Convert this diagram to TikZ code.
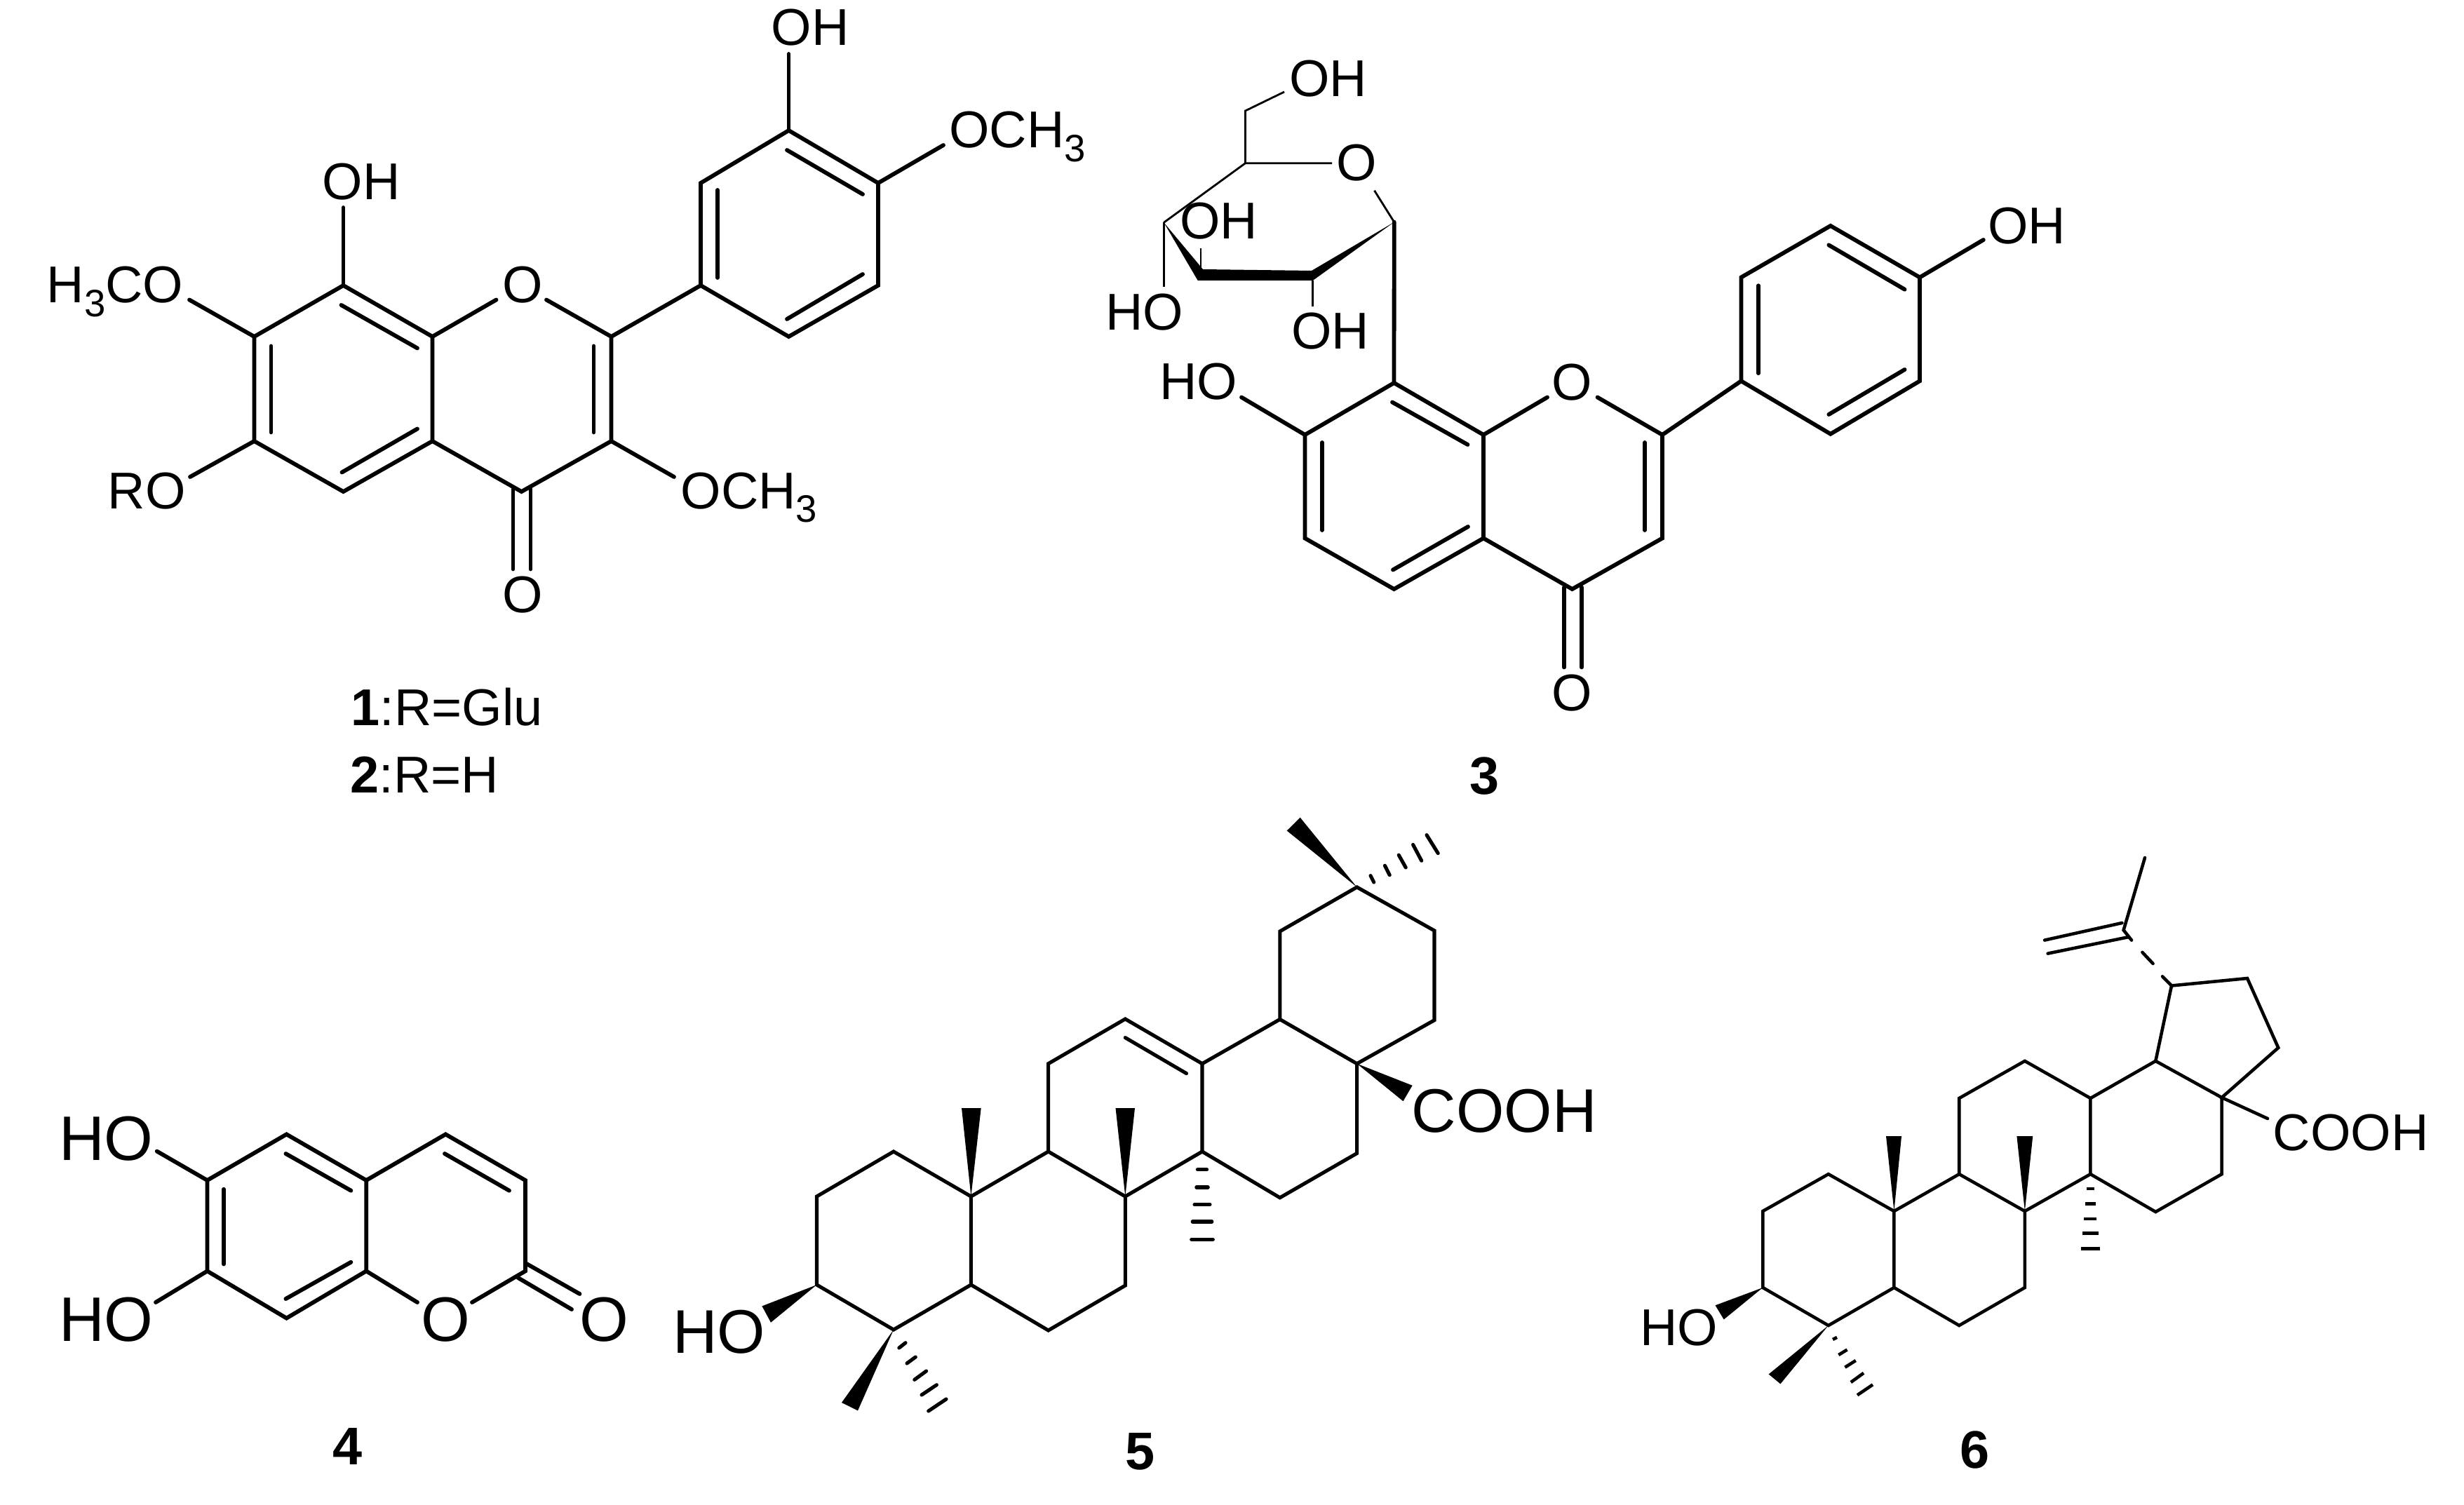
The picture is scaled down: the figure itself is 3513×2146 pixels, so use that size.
\documentclass[tikz,border=0pt]{standalone}
\usepackage{fontspec}
\setmainfont{Liberation Sans}
\def\wedgebond(#1)(#2)(#3){\fill (#1) -- (#2) -- (#3) -- cycle;}
\newcommand{\subthree}{\raisebox{-0.26em}{\fontsize{15.5}{16}\selectfont 3}}
\tikzset{
	bond/.style={line width=1.65pt, line cap=round},
	thinbond/.style={line width=0.8pt},
	midbond/.style={line width=1.45pt, line cap=round},
	lowbond/.style={line width=1.3pt, line cap=round},
	atom/.style={font=\fontsize{21}{24}\selectfont, inner sep=0pt, anchor=base},
	bigatom/.style={atom, font=\fontsize{25.5}{30}\selectfont},
	midatom/.style={atom, font=\fontsize{25}{30}\selectfont},
	molnum/.style={atom, font=\fontsize{21.5}{24}\selectfont\bfseries}
}

\begin{document}
\begin{tikzpicture}[x=0.01cm, y=-0.01cm]
		\useasboundingbox (0, 0) rectangle (3513, 2146);
		
		%%%%% 1 and 2 %%%%%
		\foreach \n/\x/\y in {a1/362.5/480, a2/489.5/407, a3/616.5/480, a4/616.5/629, a5/489.5/701, a6/362.5/629,
			a7/743.5/701, a8/871.5/629, a9/871.5/480, a10/999/407, a11/999/261, a12/1124.5/186, a13/1252/261,
			a14/1252/407, a15/1124.5/480, ae1/270/427.5, ae2/489.5/296, ae3/271/680, ae4/707.5/427.5,
			ae5/779/427.5, ae6/1124.5/77, ae7/1345/207, ae8/961/680}
			\coordinate (\n) at (\x, \y);
		\draw[bond] (a1) -- (a2) -- (a3) -- (a4) -- (a5) -- (a6) -- cycle;
		\draw[bond] (a4) -- (a7) -- (a8) -- (a9) -- (ae5);
		\draw[bond] (a3) -- (ae4);
		\draw[bond] (a9) -- (a10) -- (a11) -- (a12) -- (a13) -- (a14) -- (a15) -- (a10);
		\draw[bond] (a1) -- (ae1);
		\draw[bond] (a2) -- (ae2);
		\draw[bond] (a6) -- (ae3);
		\draw[bond] (a12) -- (ae6);
		\draw[bond] (a13) -- (ae7);
		\draw[bond] (a8) -- (ae8);
		\foreach \xa/\ya/\xb/\yb in {486.5/435/595/496.5, 386.5/493.5/386.5/616.5, 487.5/673.5/595/611.5,
			846.5/493.5/846.5/616.5, 731.5/697.5/731.5/811.5, 756.5/697.5/756.5/811.5, 1023/271/1023/396,
			1122/214/1230/277, 1230/391/1122/455}
			\draw[bond] (\xa, \ya) -- (\xb, \yb);
		\node[atom, anchor=base east] (a-h3co) at (262, 432) {H\subthree CO};
		\node[atom] (a-oh8) at (515, 285) {OH};
		\node[atom] (a-o1) at (745, 432) {O};
		\node[atom] (a-oh3) at (1155, 65) {OH};
		\node[atom, anchor=base west] (a-och4) at (1352.5, 211) {OCH\subthree};
		\node[atom, anchor=base west] (a-ro) at (153, 725) {RO};
		\node[atom] (a-o4) at (745, 873) {O};
		\node[atom, anchor=base west] (a-och3) at (970, 725) {OCH\subthree};
		\node[atom, anchor=base west] (a-glu) at (500, 1034) {\textbf{1}:R=Glu};
		\node[atom, anchor=base west] (a-h) at (499, 1130) {\textbf{2}:R=H};
		
		%%%%% 3 %%%%%
		\foreach \n/\x/\y in {b1/1860.5/620, b2/1987.5/546, b3/2115/620, b4/2115/767.5, b5/1987.5/840, b6/1860.5/767.5,
			b7/2241.5/840, b8/2370/767.5, b9/2370/620, b10/2482.4/543.3, b11/2482.4/395.5, b12/2609.8/322,
			b13/2737/395.5, b14/2737/543.3, b15/2609.8/618.8, be1/1770/566.5, be2/2206/566.5, be3/2277.5/566.5,
			be4/2827.8/342, s1/1987.7/316.7, s2/1659.3/317.3, s3/1775.5/232.7, s4/1775.5/158, se1/1831/131,
			se2/1899/232.7, se3/1959.5/271.7, se4/1659.3/409, se5/1712/354.3, se6/1712/382, se7/1871.3/400,
			se8/1871.3/436.7}
			\coordinate (\n) at (\x, \y);
		\draw[bond] (b1) -- (b2) -- (b3) -- (b4) -- (b5) -- (b6) -- cycle;
		\draw[bond] (b4) -- (b7) -- (b8) -- (b9) -- (be3);
		\draw[bond] (b3) -- (be2);
		\draw[bond] (b9) -- (b10) -- (b11) -- (b12) -- (b13) -- (b14) -- (b15) -- (b10);
		\draw[bond] (b1) -- (be1);
		\draw[bond] (b13) -- (be4);
		\draw[bond] (b2) -- (s1);
		\foreach \xa/\ya/\xb/\yb in {1985/573.5/2092.5/634, 1885/631/1885/756, 1986/812.5/2093/751,
			2345/631/2345/756, 2230/837.5/2230/951.5, 2255/837.5/2255/951.5, 2507/407.3/2507/532.2,
			2607.3/349.4/2715.5/412.7, 2715.5/527/2607.3/591}
			\draw[bond] (\xa, \ya) -- (\xb, \yb);
		\fill (s2) -- (1715, 384) -- (1870, 386) -- (s1) -- (1871.7, 400) -- (1707.7, 400) -- cycle;
		\draw[thinbond] (s1) -- (se3);
		\draw[thinbond] (se2) -- (s3) -- (s2);
		\draw[thinbond] (s3) -- (s4) -- (se1);
		\draw[thinbond] (s2) -- (se4);
		\draw[thinbond] (se5) -- (se6);
		\draw[thinbond] (se7) -- (se8);
		\node[atom] (b-oh6) at (1893.5, 138) {OH};
		\node[atom] (b-os) at (1934, 258) {O};
		\node[atom] (b-oh4) at (1737.7, 341) {OH};
		\node[atom] (b-ho3) at (1632, 471) {HO};
		\node[atom] (b-oh2) at (1896.5, 498) {OH};
		\node[atom] (b-ho7) at (1708.7, 570) {HO};
		\node[atom] (b-o1) at (2241, 570.5) {O};
		\node[atom] (b-o4) at (2241, 1013) {O};
		\node[atom] (b-oh4p) at (2889.5, 347.3) {OH};
		\node[molnum] (b-num) at (2116.5, 1132) {3};
		
		%%%%% 4 %%%%%
		\foreach \n/\x/\y in {c1/295.5/1683, c2/408.5/1617.4, c3/522.2/1683, c4/522.2/1812.4, c5/408.5/1879.6,
			c6/295.5/1812.4, c7/635.3/1617.4, c8/749/1683, c9/749/1812.4, ce1/223.7/1641.6, ce2/222/1857,
			ce3/595/1857, ce4/673/1857}
			\coordinate (\n) at (\x, \y);
		\draw[bond] (c1) -- (c2) -- (c3) -- (c4) -- (c5) -- (c6) -- cycle;
		\draw[bond] (c3) -- (c7) -- (c8) -- (c9) -- (ce4);
		\draw[bond] (c4) -- (ce3);
		\draw[bond] (c1) -- (ce1);
		\draw[bond] (c6) -- (ce2);
		\foreach \xa/\ya/\xb/\yb in {407.4/1645/500.4/1697.7, 319/1695.7/319/1802.5, 407.4/1852/500.4/1799.7,
			634/1645/726/1697.7, 749/1801/826.5/1845, 738.6/1822/815/1867}
			\draw[bond] (\xa, \ya) -- (\xb, \yb);
		\node[bigatom] (c-ho6) at (151.4, 1654) {HO};
		\node[bigatom] (c-ho7) at (151.4, 1912) {HO};
		\node[bigatom] (c-o1) at (635.3, 1912) {O};
		\node[bigatom] (c-o2) at (861, 1912) {O};
		\node[molnum] (c-num) at (496, 2088) {4};
		
		%%%%% 5 %%%%%
		\foreach \n/\x/\y in {d1/1164.5/1706, d2/1274/1642, d3/1384.4/1706, d4/1384.4/1832, d5/1274/1896, d6/1164.5/1832,
			d7/1494.6/1642, d8/1604.3/1706, d9/1604.3/1833, d10/1494.6/1897, d11/1494.6/1516.7, d12/1604.3/1453,
			d13/1714/1516.7, d14/1714/1642, d15/1824.8/1453.5, d16/1934.6/1516.7, d17/1934.6/1644.5, d18/1824.8/1707.8,
			d19/1824.8/1328, d20/1934.6/1265, d21/2045/1327, d22/2045/1454.7}
			\coordinate (\n) at (\x, \y);
		\draw[midbond] (d1) -- (d2) -- (d3) -- (d4) -- (d5) -- (d6) -- cycle;
		\draw[midbond] (d3) -- (d7) -- (d8) -- (d9) -- (d10) -- (d4);
		\draw[midbond] (d7) -- (d11) -- (d12) -- (d13) -- (d14) -- (d8);
		\draw[midbond] (d13) -- (d15) -- (d16) -- (d17) -- (d18) -- (d14);
		\draw[midbond] (d15) -- (d19) -- (d20) -- (d21) -- (d22) -- (d16);
		\draw[midbond] (1604.3, 1479.6) -- (1691.5, 1530.6);
		\wedgebond(d3)(1371, 1580)(1398.7, 1580)
		\wedgebond(d8)(1590.5, 1580)(1618, 1580)
		\wedgebond(d6)(1086.4, 1862.4)(1099, 1885.7)
		\wedgebond(d5)(1200, 2000)(1223, 2011.4)
		\wedgebond(d16)(2013.6, 1547.8)(2000.5, 1570.2)
		\wedgebond(d20)(1853.6, 1165.7)(1834.7, 1184.5)
		\foreach \xa/\ya/\xb/\yb in {1281.8/1922/1291/1914.7, 1293/1944/1305.3/1935, 1303.8/1967.3/1320.6/1955,
			1314/1989/1335.4/1974.7, 1323.7/2012/1349/1995, 1707.4/1667.8/1720.6/1667.8, 1705.8/1693/1722.2/1693,
			1703/1717.6/1725/1717.6, 1700.2/1742/1727.8/1742, 1698.7/1767.3/1729.3/1767.3, 1954/1248.6/1958.7/1258,
			1974.4/1234.3/1981.2/1247.8, 1994.2/1219.2/2004.2/1237, 2014.6/1204.5/2026.7/1227.3, 2034/1190.6/2050.2/1216.7}
			\draw[midbond] (\xa, \ya) -- (\xb, \yb);
		\node[midatom] (d-ho) at (1025, 1929) {HO};
		\node[midatom] (d-cooh) at (2144.6, 1614) {COOH};
		\node[molnum] (d-num) at (1625, 2095) {5};
		
		%%%%% 6 %%%%%
		\foreach \n/\x/\y in {e1/2513.3/1727, e2/2606.8/1674.2, e3/2700.4/1727, e4/2700.4/1836, e5/2606.8/1890, e6/2513.3/1836,
			e7/2793.2/1674.2, e8/2886.8/1727, e9/2886.8/1836, e10/2793.2/1890, e11/2793.2/1566, e12/2886.8/1512.9,
			e13/2980.4/1566, e14/2980.4/1674.2, e15/3073.3/1512.9, e16/3167.6/1565, e17/3167.6/1674.2, e18/3073.3/1728,
			e19/3096/1405.5, e20/3204/1395, e21/3248.2/1494, e22/3027.6/1326.3, e23/3058/1223, ee1/3233/1595,
			ee2/3083/1392.3, ee3/3069.5/1374, ee4/3054.4/1357.9, ee5/3039/1340.6}
			\coordinate (\n) at (\x, \y);
		\draw[lowbond] (e1) -- (e2) -- (e3) -- (e4) -- (e5) -- (e6) -- cycle;
		\draw[lowbond] (e3) -- (e7) -- (e8) -- (e9) -- (e10) -- (e4);
		\draw[lowbond] (e7) -- (e11) -- (e12) -- (e13) -- (e14) -- (e8);
		\draw[lowbond] (e13) -- (e15) -- (e16) -- (e17) -- (e18) -- (e14);
		\draw[lowbond] (e15) -- (e19) -- (e20) -- (e21) -- (e16) -- (ee1);
		\draw[lowbond] (e19) -- (ee2);
		\draw[lowbond] (ee3) -- (ee4);
		\draw[lowbond] (ee5) -- (e22) -- (e23);
		\draw[lowbond] (3025.4, 1316) -- (2915, 1340.6);
		\draw[lowbond] (3035.2, 1336) -- (2919.6, 1359.6);
		\wedgebond(e3)(2689, 1620.2)(2711, 1620.2)
		\wedgebond(e8)(2875.4, 1620.2)(2898.2, 1620.2)
		\wedgebond(e6)(2445.5, 1861.3)(2457.7, 1881.4)
		\wedgebond(e5)(2521.6, 1959.5)(2538.4, 1973.3)
		\foreach \xa/\ya/\xb/\yb in {2613/1910/2619/1907, 2621.3/1932/2633.5/1924.5, 2630.4/1949.7/2645.7/1940,
			2638.8/1971/2657/1957.8, 2648/1989.3/2670/1974.4, 2975.1/1694.8/2985.7/1694.8, 2972.8/1716.6/2988/1716.6,
			2971.4/1737.9/2989.4/1737.9, 2969/1758.6/2991.8/1758.6, 2966.7/1780.4/2994.1/1780.4}
			\draw[lowbond, line cap=butt] (\xa, \ya) -- (\xb, \yb);
		\node[atom] (e-ho) at (2394, 1918) {HO};
		\node[atom] (e-cooh) at (3351.5, 1640) {COOH};
		\node[molnum] (e-num) at (2815.6, 2093) {6};
	\end{tikzpicture}
\end{document}
